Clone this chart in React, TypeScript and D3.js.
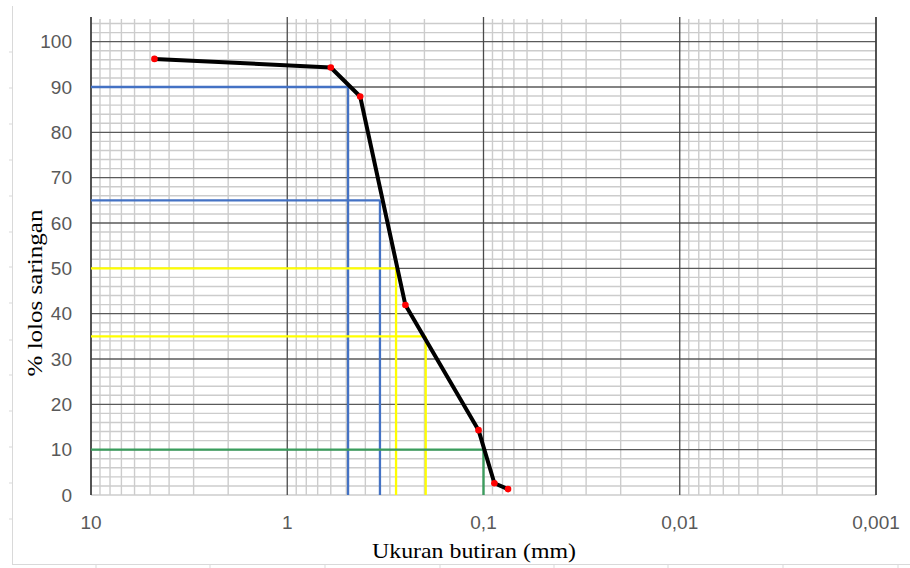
import { scaleLog, scaleLinear, range, line } from "d3";

const width = 910;
const height = 568;
const Margin = { top: 19, bottom: 73, left: 91, right: 34 };

// sieve analysis points (diameter in mm, % passing)
const grainSizes = [4.75, 0.6, 0.425, 0.25, 0.106, 0.088, 0.075];
const percentPassing = [96.2, 94.3, 87.9, 41.9, 14.3, 2.6, 1.3];

// D-value guide lines
const guidePercents = [90, 65, 50, 35, 10];
const guideSizes = [0.49, 0.337, 0.279, 0.197, 0.1];
const guideColors = ["#4472C4", "#4472C4", "#FFFF00", "#FFFF00", "#3A9D5D"];

const xTickValues = [10, 1, 0.1, 0.01, 0.001];
const xTickLabels = ["10", "1", "0,1", "0,01", "0,001"];
const yTickValues = [0, 10, 20, 30, 40, 50, 60, 70, 80, 90, 100];

const x0 = Margin.left;
const x1 = width - Margin.right;
const y0 = height - Margin.bottom;
const y1 = Margin.top;

export default function App() {
  const xScale = scaleLog().domain([10, 0.001]).range([x0, x1]);
  const yScale = scaleLinear().domain([0, 105]).range([y0, y1]);

  const minorX: number[] = [];
  [1, 0.1, 0.01, 0.001].forEach((dec) => {
    for (let k = 2; k <= 9; k++) minorX.push(dec * k);
  });
  const minorY = range(2, 105, 2).filter((v) => v % 10 !== 0);

  const pathGen = line<number>()
    .x((_, i) => xScale(grainSizes[i]))
    .y((d) => yScale(d));

  const tickFont = "'Liberation Sans', Arial, sans-serif";
  const titleFont = "'Liberation Serif', 'Times New Roman', serif";

  return (
    <div style={{ position: "absolute", left: 0, top: 0 }}>
      <svg width={width} height={height} style={{ display: "block", background: "#fff" }}>
        {/* sheet frame */}
        <line x1={12.5} x2={12.5} y1={6} y2={564.5} stroke="#d9d9d9" />
        <line x1={12} x2={width} y1={564.5} y2={564.5} stroke="#d9d9d9" />
        {[52, 88, 124, 160, 196, 232, 267, 303, 340, 375, 411, 447, 483, 519].map((v, i) => (
          <line key={"fl" + i} x1={9} x2={12} y1={v} y2={v} stroke="#d9d9d9" />
        ))}
        {[96, 210, 325, 440, 554, 668, 783, 898].map((v, i) => (
          <line key={"fb" + i} x1={v} x2={v} y1={564} y2={568} stroke="#d9d9d9" />
        ))}

        {/* minor grid */}
        {minorY.map((v) => (
          <line key={"my" + v} x1={x0} x2={x1} y1={yScale(v)} y2={yScale(v)} stroke="#cccccc" strokeWidth={1.4} />
        ))}
        {minorX.map((v, i) => (
          <line key={"mx" + i} x1={xScale(v)} x2={xScale(v)} y1={y1} y2={y0} stroke="#cccccc" strokeWidth={1.4} />
        ))}
        <line x1={x0} x2={x1} y1={y0} y2={y0} stroke="#cccccc" strokeWidth={1.4} />

        {/* major grid */}
        {yTickValues.filter((v) => v > 0).map((v) => (
          <line key={"My" + v} x1={x0} x2={x1} y1={yScale(v)} y2={yScale(v)} stroke="#5a5a5a" strokeWidth={1.3} />
        ))}
        {xTickValues.map((v, i) => (
          <line key={"Mx" + i} x1={xScale(v)} x2={xScale(v)} y1={y1 - 2} y2={y0}
            stroke={i === 0 || i === xTickValues.length - 1 ? "#404040" : "#4a4a4a"}
            strokeWidth={i === 0 || i === xTickValues.length - 1 ? 1.8 : 1.3} />
        ))}

        {/* guide lines */}
        {guidePercents.map((p, i) => (
          <g key={"g" + i}>
            <line x1={x0} x2={xScale(guideSizes[i])} y1={yScale(p)} y2={yScale(p)}
              stroke={guideColors[i]} strokeWidth={2.3} />
            <line x1={xScale(guideSizes[i])} x2={xScale(guideSizes[i])} y1={yScale(p)} y2={y0}
              stroke={guideColors[i]} strokeWidth={2.3} />
          </g>
        ))}

        {/* gradation curve */}
        <path d={pathGen(percentPassing) || ""} fill="none" stroke="#000" strokeWidth={4} strokeLinejoin="round" />
        {percentPassing.map((p, i) => (
          <circle key={"c" + i} cx={xScale(grainSizes[i])} cy={yScale(p)} r={3.3} fill="#ff0000" />
        ))}

        {/* tick labels */}
        {yTickValues.map((v) => (
          <text key={"ty" + v} x={72} y={yScale(v)} dy="0.35em" textAnchor="end"
            fontFamily={tickFont} fontSize={19} fill="#595959">{v}</text>
        ))}
        {xTickValues.map((v, i) => (
          <text key={"tx" + i} x={xScale(v)} y={529} textAnchor="middle"
            fontFamily={tickFont} fontSize={19} fill="#595959">{xTickLabels[i]}</text>
        ))}

        {/* axis titles */}
        <text x={474} y={558} textAnchor="middle" fontFamily={titleFont} fontSize={22} fill="#000"
          textLength={204} lengthAdjust="spacingAndGlyphs">
          Ukuran butiran (mm)
        </text>
        <text transform="translate(42,293) rotate(-90)" textAnchor="middle" fontFamily={titleFont} fontSize={22} fill="#000"
          textLength={167} lengthAdjust="spacingAndGlyphs">
          % lolos saringan
        </text>
      </svg>
    </div>
  );
}
